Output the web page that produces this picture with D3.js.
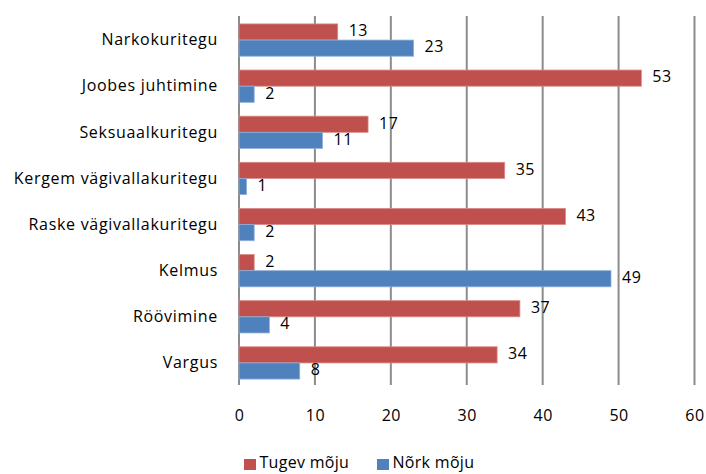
<!DOCTYPE html>
<html>
<head>
<meta charset="utf-8">
<script src="https://cdn.jsdelivr.net/npm/d3@7"></script>
<style>
  html, body { margin: 0; padding: 0; background: #fff; }
  svg text { font-family: "Open Sans", Lato, "Liberation Sans", sans-serif; fill: #000; font-size: 16px; }
</style>
</head>
<body>
<svg id="chart" width="706" height="474"></svg>
<script>
// Crime categories, top to bottom
const categories = [
  "Narkokuritegu",
  "Joobes juhtimine",
  "Seksuaalkuritegu",
  "Kergem vägivallakuritegu",
  "Raske vägivallakuritegu",
  "Kelmus",
  "Röövimine",
  "Vargus"
];
const seriesNames = ["Tugev mõju", "Nõrk mõju"];
const strongValues = [13, 53, 17, 35, 43, 2, 37, 34];
const weakValues = [23, 2, 11, 1, 2, 49, 4, 8];
const xTicks = [0, 10, 20, 30, 40, 50, 60];
const colors = ["#C0504D", "#4F81BD"];

const svg = d3.select("#chart");
const plot = { left: 239, right: 694.5, top: 16, bottom: 385 };

const x = d3.scaleLinear().domain([0, 60]).range([plot.left, plot.right]);
const y = d3.scaleBand().domain(categories).range([plot.top + 1, plot.bottom + 1]).paddingInner(0.3).paddingOuter(0.15);
const sub = d3.scaleBand().domain(seriesNames).range([0, y.bandwidth()]);

// vertical gridlines
svg.append("g").selectAll("line").data(xTicks).join("line")
  .attr("x1", d => x(d)).attr("x2", d => x(d))
  .attr("y1", plot.top).attr("y2", plot.bottom)
  .attr("stroke", "#8c8c8c").attr("stroke-width", 2);

// tick labels
const xAxis = d3.axisBottom(x).tickValues(xTicks).tickSize(0).tickPadding(0);
const ax = svg.append("g").attr("transform", `translate(0, ${plot.bottom + 32})`).call(xAxis);
ax.select(".domain").remove();
ax.selectAll("text").attr("dy", null).attr("dominant-baseline", "middle")
  .style("font-family", "'Open Sans', sans-serif").style("font-size", "16px")
  .style("letter-spacing", "0.5px");

// category labels
const yAxis = d3.axisLeft(y).tickSize(0).tickPadding(0);
const ay = svg.append("g").attr("transform", `translate(${plot.left - 21}, 1)`).call(yAxis);
ay.select(".domain").remove();
ay.selectAll("text").attr("dy", null).attr("dominant-baseline", "middle")
  .style("font-family", "'Open Sans', sans-serif").style("font-size", "16px")
  .style("letter-spacing", "0.7px");

const rows = categories.map((c, i) => ({ cat: c, vals: [strongValues[i], weakValues[i]] }));

const groups = svg.append("g").selectAll("g").data(rows).join("g")
  .attr("transform", d => `translate(0, ${y(d.cat)})`);

groups.selectAll("rect").data(d => d.vals.map((v, k) => ({ v, k }))).join("rect")
  .attr("x", x(0))
  .attr("y", d => sub(seriesNames[d.k]))
  .attr("width", d => x(d.v) - x(0))
  .attr("height", sub.bandwidth())
  .attr("fill", d => colors[d.k])
  .attr("stroke", d => d.k === 0 ? "#d98a88" : "#8fb0da")
  .attr("stroke-width", 0.8);

groups.selectAll("text.val").data(d => d.vals.map((v, k) => ({ v, k }))).join("text")
  .attr("class", "val")
  .attr("x", d => x(d.v) + 11)
  .attr("y", d => sub(seriesNames[d.k]) + sub.bandwidth() / 2)
  .attr("dominant-baseline", "middle")
  .style("letter-spacing", "0.5px")
  .text(d => d.v);

// legend
const legend = svg.append("g").attr("transform", "translate(244, 464)");
const legendX = [0, 133];
seriesNames.forEach((name, k) => {
  const g = legend.append("g").attr("transform", `translate(${legendX[k]}, 0)`);
  g.append("rect").attr("x", 0).attr("y", -5).attr("width", 12).attr("height", 11).attr("fill", colors[k]);
  g.append("text").attr("x", 15.5).attr("y", 0).attr("dominant-baseline", "middle")
    .style("letter-spacing", "0.3px").text(name);
});
</script>
</body>
</html>
